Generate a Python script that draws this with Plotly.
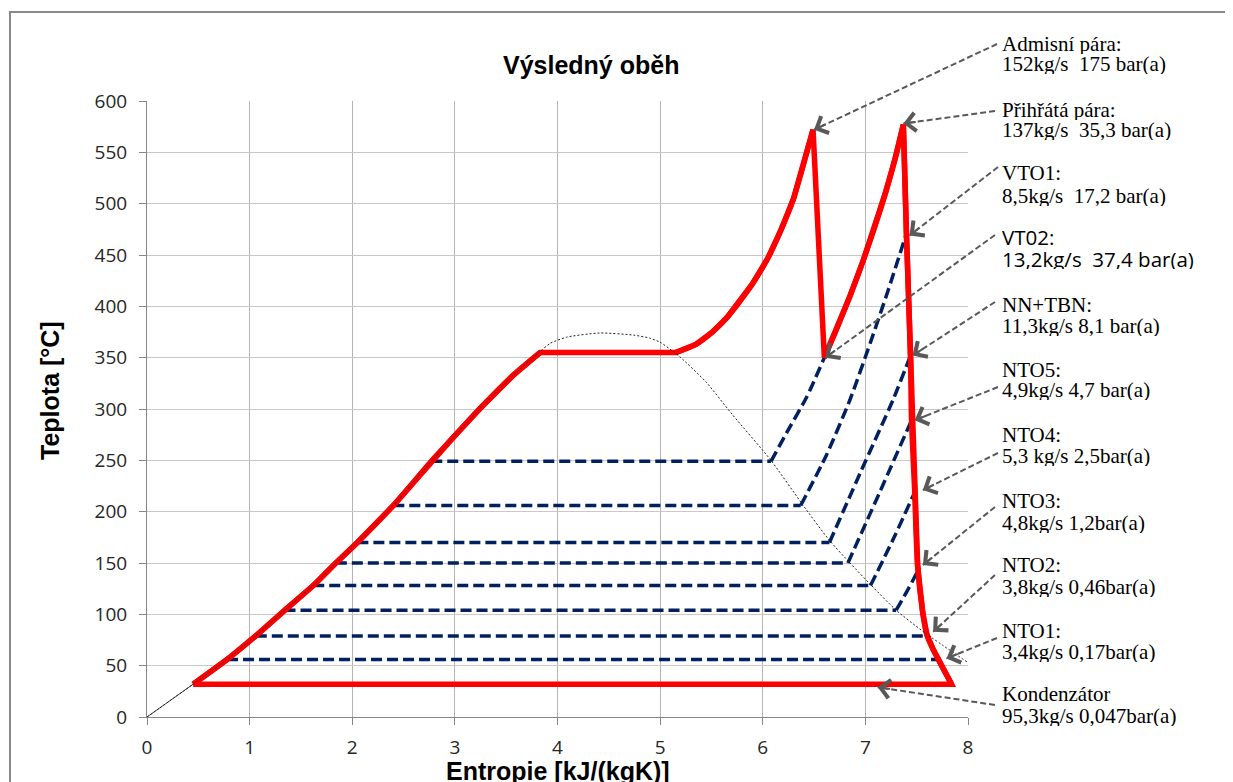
import math
import plotly.graph_objects as go

# ---------------- data ----------------
# main cycle (red), split in pieces
liquid_s = [0.45, 0.78, 1.06, 1.34, 1.62, 1.84, 2.05, 2.40, 2.77, 3.00, 3.25, 3.57, 3.83]
liquid_t = [32, 56, 79, 104, 128, 150, 170, 206, 249, 274, 301, 333, 355]
evap_s = [3.83, 5.15]
evap_t = [355, 355]
superheat_s = [5.15, 5.35, 5.51, 5.65, 5.77, 5.90, 6.05, 6.18, 6.30, 6.39, 6.49]
superheat_t = [355, 363, 375, 389, 404, 422, 447, 475, 505, 536, 572]
hp_exp_s = [6.49, 6.60]
hp_exp_t = [572, 350]
reheat_s = [6.60, 6.72, 6.85, 6.98, 7.10, 7.20, 7.29, 7.37]
reheat_t = [350, 378, 410, 445, 480, 512, 544, 577]
lp_exp_s = [7.37, 7.40, 7.44, 7.45, 7.48, 7.51, 7.56, 7.60, 7.66, 7.84]
lp_exp_t = [577, 471, 350, 289, 221, 146, 101, 80, 66, 32]
cond_s = [7.84, 0.45]
cond_t = [32, 32]

# saturation dome (thin dotted)
dome_s = [0, 0.45, 0.78, 1.06, 1.34, 1.62, 1.84, 2.05, 2.40, 2.77, 3.00, 3.25, 3.57, 3.83,
          3.93, 4.09, 4.41, 4.74, 4.90, 5.00, 5.19, 5.45, 5.70, 6.08, 6.38, 6.65, 6.85,
          7.06, 7.30, 7.58, 8.00]
dome_t = [0, 32, 56, 79, 104, 128, 150, 170, 206, 249, 274, 301, 333, 356,
          364, 370, 374, 372, 369, 365, 351, 326, 295, 250, 208, 172, 150,
          128, 104, 82, 53]
origin_s = [0, 0.45]
origin_t = [0, 32]

# extraction lines (dashed navy): first two points = horizontal part
vt02_s = [2.77, 6.08, 6.25, 6.43, 6.60]
vt02_t = [249, 249, 280, 312, 350]
vto1_s = [2.40, 6.37, 6.62, 6.85, 7.05, 7.22, 7.40]
vto1_t = [206, 206, 255, 309, 365, 415, 471]
nntbn_s = [2.05, 6.65, 6.96, 7.27, 7.44]
nntbn_t = [170, 170, 240, 309, 352]
nto5_s = [1.84, 6.83, 7.14, 7.45]
nto5_t = [150, 150, 219, 289]
nto4_s = [1.62, 7.05, 7.28, 7.49]
nto4_t = [128, 128, 175, 221]
nto3_s = [1.34, 7.30, 7.42, 7.53]
nto3_t = [104, 104, 125, 146]
nto2_s = [1.06, 7.60]
nto2_t = [79, 79]
nto1_s = [0.78, 7.72]
nto1_t = [56, 56]

x_ticks = [0, 1, 2, 3, 4, 5, 6, 7, 8]
y_ticks = list(range(0, 601, 50))

label_line1 = ["Admisní pára:", "Přihřátá pára:", "VTO1:", "VT02:", "NN+TBN:", "NTO5:",
               "NTO4:", "NTO3:", "NTO2:", "NTO1:", "Kondenzátor"]
label_line2 = ["152kg/s\u00a0 175 bar(a)", "137kg/s\u00a0 35,3 bar(a)", "8,5kg/s\u00a0 17,2 bar(a)",
               "13,2kg/s\u00a0 37,4 bar(a)", "11,3kg/s 8,1 bar(a)", "4,9kg/s 4,7 bar(a)",
               "5,3 kg/s 2,5bar(a)", "4,8kg/s 1,2bar(a)", "3,8kg/s 0,46bar(a)",
               "3,4kg/s 0,17bar(a)", "95,3kg/s 0,047bar(a)"]
point_s = [6.50, 7.37, 7.43, 6.61, 7.46, 7.48, 7.56, 7.56, 7.66, 7.79, 7.12]
point_t = [572, 578, 469, 350, 352, 289, 221, 148, 83, 57, 29]

# ---------------- layout geometry ----------------
OFF = 8                      # page body margin
W, H = 1225, 774
ML, MR, MT, MB = 139, 265, 93, 65
PW, PH = W - ML - MR, H - MT - MB
XR, YR = [0, 8], [0, 600]

def xp(px):                  # screenshot pixel -> paper
    return (px - OFF - ML) / PW

def yp(py):
    return (OFF + MT + PH - py) / PH

def sx(v):
    return (v - XR[0]) / (XR[1] - XR[0])

def ty(v):
    return (v - YR[0]) / (YR[1] - YR[0])

# label layout (screenshot pixels): line-1 centre, line-2 centre, arrow tail
label_y1 = [43, 109, 172, 237, 304, 369, 434, 500, 564, 630, 693]
label_y2 = [64, 130, 195, 259, 325, 390, 455, 522, 586, 651, 715]
tail_px = [(997, 44), (995, 111), (998, 167), (995, 235), (995, 302), (998, 387),
           (998, 453), (995, 507), (995, 575), (997, 638), (995, 705)]
label_x = 1000

NAVY = "#002060"
RED = "#ff0000"
fig = go.Figure()

ext = [(vt02_s, vt02_t), (vto1_s, vto1_t), (nntbn_s, nntbn_t), (nto5_s, nto5_t),
       (nto4_s, nto4_t), (nto3_s, nto3_t), (nto2_s, nto2_t), (nto1_s, nto1_t)]
for s, t in ext:
    fig.add_trace(go.Scatter(x=s[:2], y=t[:2], mode="lines",
                             line=dict(color=NAVY, width=3.5, dash="11px,5px"),
                             hoverinfo="skip", showlegend=False))
    if len(s) > 2:
        fig.add_trace(go.Scatter(x=s[1:], y=t[1:], mode="lines",
                                 line=dict(color=NAVY, width=3.5, dash="11px,5px",
                                           shape="spline", smoothing=0.6),
                                 hoverinfo="skip", showlegend=False))

# full cycle as a polyline (sharp corners) plus smooth overlays on curved pieces
cyc_s = liquid_s + superheat_s + reheat_s + lp_exp_s + cond_s[1:]
cyc_t = liquid_t + superheat_t + reheat_t + lp_exp_t + cond_t[1:]
fig.add_trace(go.Scatter(x=cyc_s, y=cyc_t, mode="lines",
                         line=dict(color=RED, width=5.5),
                         hoverinfo="skip", showlegend=False))
for s, t in ((liquid_s, liquid_t), (superheat_s, superheat_t), (reheat_s, reheat_t),
             (lp_exp_s, lp_exp_t)):
    fig.add_trace(go.Scatter(x=s, y=t, mode="lines",
                             line=dict(color=RED, width=5.5, shape="spline", smoothing=0.8),
                             hoverinfo="skip", showlegend=False))

fig.add_trace(go.Scatter(x=origin_s, y=origin_t, mode="lines",
                         line=dict(color="#404040", width=1),
                         hoverinfo="skip", showlegend=False))
fig.add_trace(go.Scatter(x=dome_s, y=dome_t, mode="lines",
                         line=dict(color="#202020", width=1, dash="2px,2px", shape="spline",
                                   smoothing=0.6),
                         hoverinfo="skip", showlegend=False))

shapes = []
annotations = []
ARROW = "#595959"
for i in range(len(label_line1)):
    tx, tyy = tail_px[i]
    hx_p, hy_p = sx(point_s[i]), ty(point_t[i])
    shapes.append(dict(type="line", xref="paper", yref="paper",
                       x0=xp(tx), y0=yp(tyy), x1=hx_p, y1=hy_p,
                       line=dict(color=ARROW, width=2, dash="6px,3px")))
    hx_px = OFF + ML + hx_p * PW
    hy_px = OFF + MT + (1 - hy_p) * PH
    vx, vy = tx - hx_px, tyy - hy_px
    n = math.hypot(vx, vy)
    L = 14
    annotations.append(dict(x=point_s[i], y=point_t[i], xref="x", yref="y", text="",
                            showarrow=True, ax=vx / n * L, ay=vy / n * L,
                            arrowhead=4, arrowsize=1.8, arrowwidth=2, arrowcolor=ARROW,
                            standoff=0))
    if label_line1[i] == "VT02:":
        f = dict(family="Open Sans", size=20.5, color="#000000")
    else:
        f = dict(family="Liberation Serif", size=21, color="#000000")
    for txt, ly in ((label_line1[i], label_y1[i]), (label_line2[i], label_y2[i])):
        annotations.append(dict(x=xp(label_x), y=yp(ly), xref="paper", yref="paper",
                                text=txt, showarrow=False, xanchor="left", yanchor="middle",
                                height=21, valign="middle", font=f))

# outer chart border
shapes.append(dict(type="rect", xref="paper", yref="paper",
                   x0=xp(10), y0=yp(12), x1=xp(1260), y1=yp(810),
                   line=dict(color="#898989", width=2), fillcolor="rgba(0,0,0,0)"))

# title and axis titles
annotations.append(dict(x=xp(591), y=yp(65), xref="paper", yref="paper",
                        text="<b>Výsledný oběh</b>", showarrow=False,
                        xanchor="center", yanchor="middle",
                        font=dict(family="Liberation Sans", size=25, color="#000000")))
annotations.append(dict(x=xp(50), y=yp(391), xref="paper", yref="paper",
                        text="<b>Teplota [°C]</b>", showarrow=False, textangle=-90,
                        xanchor="center", yanchor="middle",
                        font=dict(family="Liberation Sans", size=25, color="#000000")))
annotations.append(dict(x=xp(557.5), y=yp(771), xref="paper", yref="paper",
                        text="<b>Entropie [kJ/(kgK)]</b>", showarrow=False,
                        xanchor="center", yanchor="middle",
                        font=dict(family="Liberation Sans", size=25, color="#000000")))

fig.update_layout(
    width=W, height=H, autosize=False,
    margin=dict(l=ML, r=MR, t=MT, b=MB, pad=0),
    paper_bgcolor="white", plot_bgcolor="white",
    shapes=shapes, annotations=annotations,
    xaxis=dict(range=XR, tickvals=x_ticks, showgrid=True, gridcolor="#b4b4b4",
               zeroline=False, showline=True, linecolor="#868686", linewidth=1,
               ticks="outside", ticklen=7, tickcolor="#868686",
               tickfont=dict(family="Open Sans", size=19, color="#262626"),
               ticklabelstandoff=6),
    yaxis=dict(range=YR, tickvals=y_ticks, showgrid=True, gridcolor="#c8c8c8",
               zeroline=False, showline=True, linecolor="#868686", linewidth=1,
               ticks="outside", ticklen=7, tickcolor="#868686",
               tickfont=dict(family="Open Sans", size=19, color="#262626"),
               ticklabelstandoff=8),
)

fig.write_html("out.html")
